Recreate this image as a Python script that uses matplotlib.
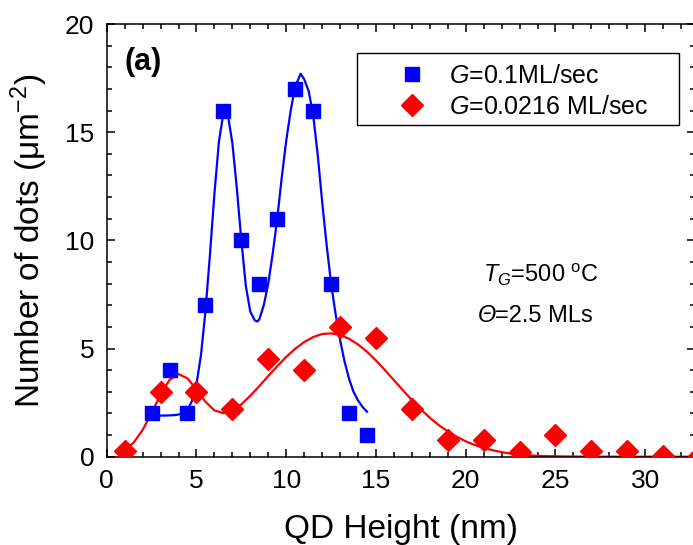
import matplotlib
matplotlib.use("Agg")
import matplotlib.pyplot as plt
from matplotlib.ticker import MultipleLocator
from matplotlib.patches import Rectangle

plt.rcParams['font.family'] = ['Liberation Sans', 'DejaVu Sans']
plt.rcParams['mathtext.fontset'] = 'custom'
plt.rcParams['mathtext.rm'] = 'Liberation Sans'
plt.rcParams['mathtext.it'] = 'Liberation Sans:italic'
plt.rcParams['mathtext.bf'] = 'Liberation Sans:bold'

# ---- data: G = 0.1 ML/sec (blue squares) ----
blue_x = [2.5, 3.5, 4.5, 5.5, 6.5, 7.5, 8.5, 9.5, 10.5, 11.5, 12.5, 13.5, 14.5]
blue_y = [2, 4, 2, 7, 16, 10, 8, 11, 17, 16, 8, 2, 1]

# fitted curve for blue
blue_fit_x = [2.5, 2.75, 3.0, 3.25, 3.5, 3.75, 4.0, 4.25, 4.5, 4.75, 5.0, 5.25, 5.5,
              5.75, 6.0, 6.25, 6.5, 6.6, 6.75, 7.0, 7.25, 7.5, 7.75, 8.0, 8.25, 8.4,
              8.5, 8.75, 9.0, 9.25, 9.5, 9.75, 10.0, 10.25, 10.5, 10.8, 11.0, 11.25,
              11.5, 11.75, 12.0, 12.25, 12.5, 12.75, 13.0, 13.25, 13.5, 13.75, 14.0,
              14.25, 14.5]
blue_fit_y = [1.9, 1.9, 1.9, 1.9, 1.91, 1.92, 1.95, 2.0, 2.18, 2.57, 3.35, 4.69, 6.71,
              9.32, 12.14, 14.55, 15.87, 16.05, 15.8, 14.5, 12.4, 10.0, 7.9, 6.7, 6.3, 6.25,
              6.35, 7.0, 8.0, 9.4, 11.0, 12.9, 14.6, 16.0, 17.1, 17.7, 17.45, 16.9,
              15.8, 14.0, 11.8, 9.8, 8.0, 6.6, 5.4, 4.4, 3.6, 3.0, 2.6,
              2.3, 2.08]

# ---- data: G = 0.0216 ML/sec (red diamonds) ----
red_x = [1, 3, 5, 7, 9, 11, 13, 15, 17, 19, 21, 23, 25, 27, 29, 31, 33]
red_y = [0.25, 3.0, 3.0, 2.2, 4.5, 4.0, 6.0, 5.5, 2.2, 0.75, 0.75, 0.22, 1.0, 0.25, 0.25, 0.02, 0.05]

# fitted curve for red
red_fit_x = [1.0, 1.5, 2.0, 2.5, 3.0, 3.5, 4.0, 4.5, 5.0, 5.5, 6.0, 6.5, 7.0, 7.5, 8.0,
             8.5, 9.0, 9.5, 10.0, 10.5, 11.0, 11.5, 12.0, 12.5, 13.0, 13.5, 14.0, 14.5,
             15.0, 15.5, 16.0, 16.5, 17.0, 17.5, 18.0, 18.5, 19.0, 19.5, 20.0, 20.5,
             21.0, 21.5, 22.0, 22.5, 23.0, 23.5, 24.0, 24.5, 25.0, 26.0, 27.0, 28.0,
             30.0, 32.0, 34.0]
red_fit_y = [0.31, 0.65, 1.23, 2.02, 2.87, 3.55, 3.82, 3.62, 3.11, 2.54, 2.14, 2.01, 2.13,
             2.42, 2.82, 3.26, 3.73, 4.18, 4.61, 4.99, 5.30, 5.53, 5.67, 5.70, 5.63, 5.45,
             5.19, 4.85, 4.45, 4.00, 3.54, 3.07, 2.62, 2.19, 1.80, 1.46, 1.17, 0.92, 0.71,
             0.54, 0.41, 0.30, 0.21, 0.145, 0.098, 0.066, 0.043, 0.028, 0.018, 0.007,
             0.003, 0.001, 0.0, 0.0, 0.0]

x_ticks = [0, 5, 10, 15, 20, 25, 30]
y_ticks = [0, 5, 10, 15, 20]

W, H = 693, 545
fig = plt.figure(figsize=(W / 100, H / 100), dpi=100)
ax = fig.add_axes([106.7 / W, (H - 456.7) / H, (695.5 - 106.7) / W, (456.7 - 24) / H])

ax.plot(blue_fit_x, blue_fit_y, color='#0000FF', lw=1.6, zorder=2)
ax.plot(red_fit_x, red_fit_y, color='#FF0000', lw=1.6, zorder=2)
ax.plot(blue_x, blue_y, ls='none', marker='s', ms=10, color='#0000FF', mec='#0000FF',
        label='$G$=0.1ML/sec', zorder=3)
ax.plot(red_x, red_y, ls='none', marker='D', ms=11.5, color='#FF0000', mec='#FF0000',
        label='$G$=0.0216 ML/sec', zorder=3)

ax.set_xlim(0, 32.8)
ax.set_ylim(0, 20)
ax.set_xticks(x_ticks)
ax.set_yticks(y_ticks)
ax.xaxis.set_minor_locator(MultipleLocator(1))
ax.yaxis.set_minor_locator(MultipleLocator(1))
ax.tick_params(which='both', direction='in', top=True, right=True, width=1.1)
ax.tick_params(which='major', length=6, labelsize=19, pad=9)
ax.tick_params(which='minor', length=3.3)
for s in ax.spines.values():
    s.set_linewidth(1.1)

ax.set_xlabel('QD Height (nm)', fontsize=24, labelpad=15)
ax.set_ylabel('Number of dots (μm$^{-2}$)', fontsize=24, labelpad=11)

# legend: entries without frame, plus a plain rectangular frame
leg = ax.legend(loc='upper left', bbox_to_anchor=(383 / W, 1 - 54 / H),
                bbox_transform=fig.transFigure, fontsize=18, frameon=False,
                borderpad=0.4, labelspacing=0.28, handlelength=1.5,
                handletextpad=0.75, borderaxespad=0)
fig.patches.append(Rectangle((357 / W, 1 - 125 / H), (679 - 357) / W, (125 - 53) / H,
                             transform=fig.transFigure, fill=False, edgecolor='black',
                             linewidth=1.0))

fig.text(124 / W, 1 - 62 / H, '(a)', fontsize=22, fontweight='bold', va='center', ha='left')
fig.text(483 / W, 1 - 275 / H, '$T_G$=500 $^{\\mathrm{o}}$C', fontsize=17, va='center', ha='left')
th = fig.text(478 / W, 1 - 316 / H, 'Θ', fontsize=17, style='italic', va='center', ha='left')
fig.canvas.draw()
bb = th.get_window_extent()
fig.text(bb.x1 / W - 1.5 / W, 1 - 316 / H, '=2.5 MLs', fontsize=17, va='center', ha='left')

fig.savefig('out.png', dpi=100)
